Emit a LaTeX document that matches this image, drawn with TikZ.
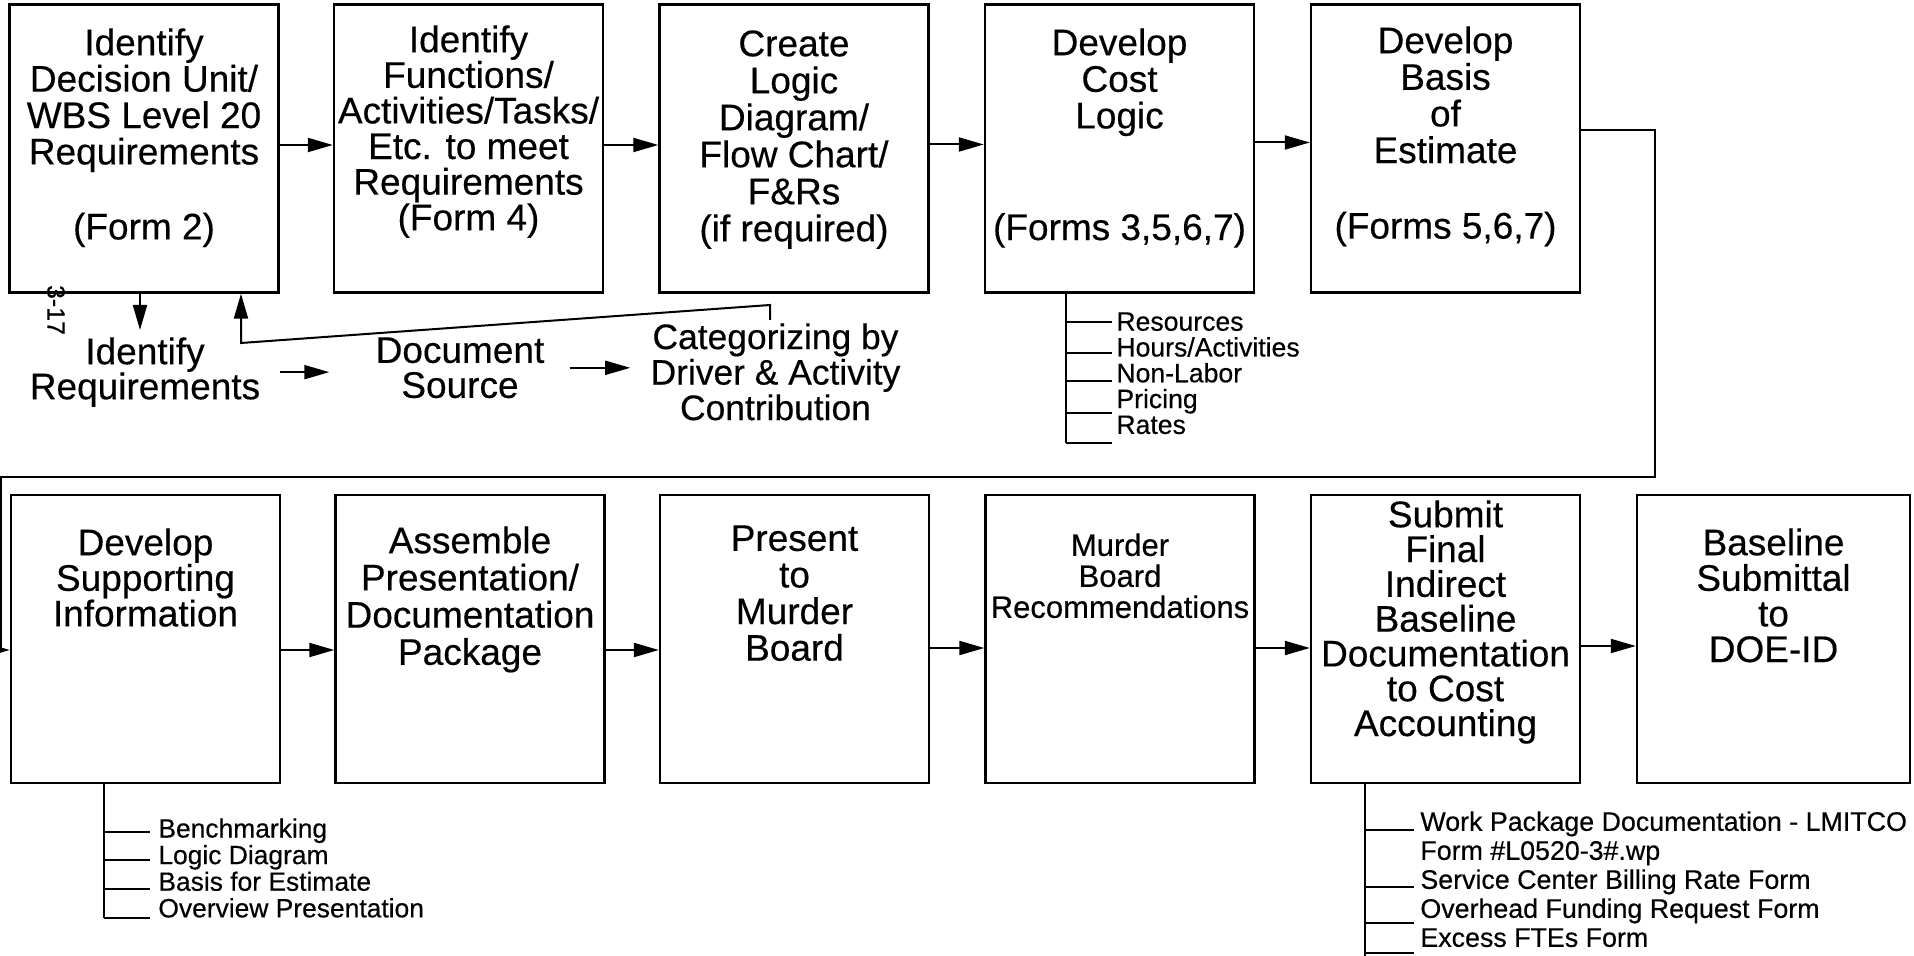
\documentclass[tikz,border=0pt]{standalone}
\usepackage{fontspec}
\setmainfont{Liberation Sans}[FakeBold=0.4]
\usetikzlibrary{arrows.meta}
\begin{document}
\begin{tikzpicture}[x=0.5pt,y=-0.5pt,
  box/.style={draw,line width=1.2pt,inner sep=0pt,minimum width=134.5pt,minimum height=144pt},
  btxt/.style={inner sep=0pt,anchor=north,align=center,font=\fontsize{18.5}{18.2}\selectfont},
  ftxt/.style={inner sep=0pt,anchor=north,align=center,font=\fontsize{18.5}{17.5}\selectfont},
  arr/.style={line width=1pt,-{Triangle[length=12.5pt,width=7pt]}},
  ln/.style={line width=1pt},
  tick/.style={line width=0.8pt},
  lst/.style={inner sep=0pt,anchor=north west,align=left,font=\fontsize{13.3}{12.9}\selectfont}]
\useasboundingbox (0,0) rectangle (1914,956);
% top row boxes
\node[box] (b1) at (144,148.5) {};
\node[box] (b2) at (468.5,148.5) {};
\node[box] (b3) at (794,148.5) {};
\node[box] (b4) at (1119.5,148.5) {};
\node[box] (b5) at (1445.5,148.5) {};
% bottom row boxes
\node[box] (b6) at (145.5,639) {};
\node[box] (b7) at (470,639) {};
\node[box] (b8) at (794.5,639) {};
\node[box] (b9) at (1120,639) {};
\node[box] (b10) at (1445.5,639) {};
\node[box,minimum width=136.5pt] (b11) at (1773.5,639) {};
% box texts
\node[btxt] (t1) at (144,28) {Identify\\Decision Unit/\\WBS Level 20\\Requirements\\[19.3pt](Form 2)};
\node[btxt,font=\fontsize{18.5}{17.8}\selectfont] (t2) at (468.5,25) {Identify\\Functions/\\Activities/Tasks/\\Etc. to meet\\Requirements\\(Form 4)};
\node[btxt,font=\fontsize{18.5}{18.5}\selectfont] (t3) at (794,30) {Create\\Logic\\Diagram/\\Flow Chart/\\F\&Rs\\(if required)};
\node[btxt,font=\fontsize{18.5}{18.3}\selectfont] (t4) at (1119.5,28) {Develop\\Cost\\Logic\\[37.5pt](Forms 3,5,6,7)};
\node[btxt,font=\fontsize{18.5}{18.3}\selectfont] (t5) at (1445.5,26) {Develop\\Basis\\of\\Estimate\\[19.5pt](Forms 5,6,7)};
\node[btxt,font=\fontsize{18.5}{17.8}\selectfont] (t6) at (145.5,528) {Develop\\Supporting\\Information};
\node[btxt,font=\fontsize{18.5}{18.6}\selectfont] (t7) at (470,526) {Assemble\\Presentation/\\Documentation\\Package};
\node[btxt,font=\fontsize{18.5}{18.3}\selectfont] (t8) at (794.5,525) {Present\\to\\Murder\\Board};
\node[btxt,font=\fontsize{15.5}{15.5}\selectfont] (t9) at (1120,533) {Murder\\Board\\Recommendations};
\node[btxt,font=\fontsize{18.5}{17.4}\selectfont] (t10) at (1445.5,500) {Submit\\Final\\Indirect\\Baseline\\Documentation\\to Cost\\Accounting};
\node[btxt,font=\fontsize{18.5}{17.8}\selectfont] (t11) at (1773.5,528) {Baseline\\Submittal\\to\\DOE-ID};
% free texts
\node[ftxt] (ir) at (145,337) {Identify\\Requirements};
\node[ftxt] (ds) at (460,337) {Document\\Source};
\node[ftxt,font=\fontsize{17.7}{17.75}\selectfont] (cat) at (775.5,323) {Categorizing by\\Driver \& Activity\\Contribution};
\node[rotate=-90,inner sep=0pt,font=\fontsize{12.5}{12.5}\selectfont] (pg) at (56,310) {3-17};
% top row arrows
\draw[arr] ([yshift=1.75pt]b1.east) -- ([yshift=1.75pt]b2.west);
\draw[arr] ([yshift=1.75pt]b2.east) -- ([yshift=1.75pt]b3.west);
\draw[arr] ([yshift=2pt]b3.east) -- ([yshift=2pt]b4.west);
\draw[arr] ([yshift=3pt]b4.east) -- ([yshift=3pt]b5.west);
% bottom row arrows
\draw[arr] ([yshift=-5.5pt]b6.east) -- ([yshift=-5.5pt]b7.west);
\draw[arr] ([yshift=-5.5pt]b7.east) -- ([yshift=-5.5pt]b8.west);
\draw[arr] ([yshift=-4.5pt]b8.east) -- ([yshift=-4.5pt]b9.west);
\draw[arr] ([yshift=-4.5pt]b9.east) -- ([yshift=-4.5pt]b10.west);
\draw[arr] ([yshift=-3.5pt]b10.east) -- ([yshift=-3.5pt]b11.west);
% requirement sub-flow
\draw[arr] ([xshift=-2pt]b1.south) -- ([xshift=-2.5pt,yshift=3.5pt]ir.north);
\draw[arr] ([xshift=9.5pt]ir.east) -- ([xshift=-23pt]ir.east -| ds.west);
\draw[arr] ([xshift=12.5pt]ds.east) -- ([xshift=-10pt]ds.east -| cat.west);
\coordinate (fb) at (241,343);
\draw[arr] ([xshift=-2.75pt,yshift=1.5pt]cat.north) -- ++(0,-15) -- (fb) -- (fb |- b1.south);
% connector top row to bottom row
\coordinate (sr) at (1655,477);
\coordinate (sl) at (1,477);
\draw[arr] ([yshift=9.25pt]b5.east) -| (sr) -- (sl) |- ([yshift=-5.5pt]b6.west);
% cost logic list
\draw[ln] ([xshift=-26.75pt]b4.south) -- (1066,443);
\foreach \y in {322,353,381,413,443} \draw[tick] (1066,\y) -- (1112,\y);
\node[lst] (cl) at (1116,312) {Resources\\Hours/Activities\\Non-Labor\\Pricing\\Rates};
% supporting list
\draw[ln] ([xshift=-20.95pt]b6.south) -- (103.6,918);
\foreach \y in {832,860,889,918} \draw[tick] (103.6,\y) -- (150,\y);
\node[lst,font=\fontsize{13.2}{13.3}\selectfont] (sp) at (158,818) {Benchmarking\\Logic Diagram\\Basis for Estimate\\Overview Presentation};
% submit list
\draw[ln] ([xshift=-40.25pt]b10.south) -- (1365,956);
\foreach \y in {830,887,923,953} \draw[tick] (1365,\y) -- (1414,\y);
\node[lst,font=\fontsize{13.4}{14.5}\selectfont] (sb) at (1420,811) {Work Package Documentation - LMITCO\\Form \#L0520-3\#.wp\\Service Center Billing Rate Form\\Overhead Funding Request Form\\Excess FTEs Form};
\end{tikzpicture}
\end{document}
